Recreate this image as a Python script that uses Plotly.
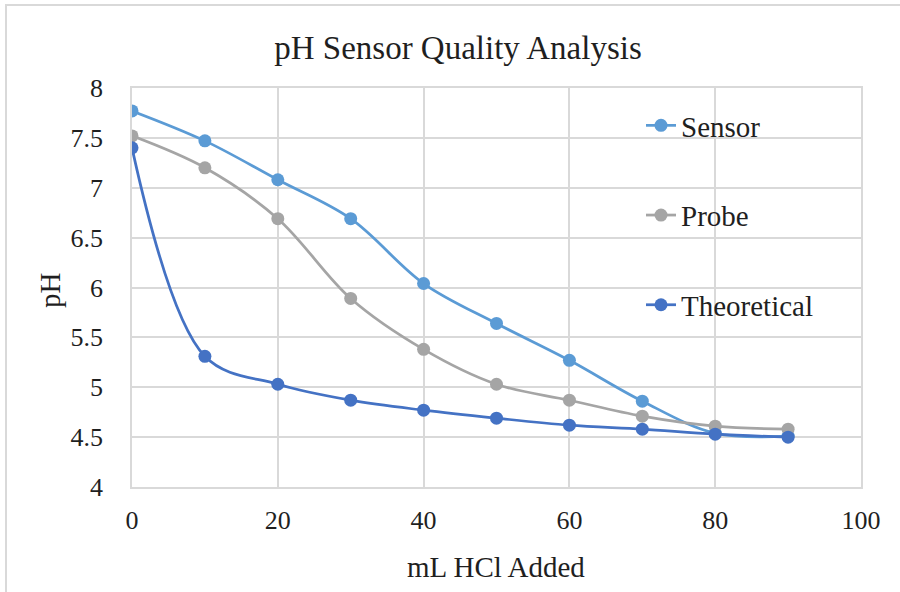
import plotly.graph_objects as go

# Titration data: pH readings vs. volume of HCl added
ml_hcl = [0, 10, 20, 30, 40, 50, 60, 70, 80, 90]
sensor = [7.77, 7.47, 7.08, 6.69, 6.04, 5.64, 5.27, 4.86, 4.54, 4.51]
probe = [7.52, 7.20, 6.69, 5.89, 5.38, 5.03, 4.87, 4.71, 4.61, 4.58]
theoretical = [7.40, 5.31, 5.03, 4.87, 4.77, 4.69, 4.62, 4.58, 4.53, 4.50]

series_names = ["Sensor", "Probe", "Theoretical"]
series_colors = ["#5B9BD5", "#A5A5A5", "#4472C4"]
x_ticks = [0, 20, 40, 60, 80, 100]
y_ticks = [4, 4.5, 5, 5.5, 6, 6.5, 7, 7.5, 8]

FONT = "Liberation Serif"
TEXT = "#1f1f1f"
GRID = "#D9D9D9"

fig = go.Figure()
for name, vals, col in zip(series_names, [sensor, probe, theoretical], series_colors):
    fig.add_trace(go.Scatter(
        x=ml_hcl, y=vals, name=name, legendgroup=name,
        mode="lines+markers",
        line=dict(color=col, width=2.75, shape="spline", smoothing=1.0),
        marker=dict(color=col, size=13),
    ))

# plot-area geometry in pixels (used for the chart frame and label placement)
W, H = 900, 592
L, R, T, B = 132, 39, 88, 105
pw, ph = W - L - R, H - T - B

def px_x(px):
    return (px - L) / pw

def px_y(py):
    return (H - B - py) / ph

fig.update_layout(
    width=W, height=H,
    margin=dict(l=L, r=R, t=T, b=B),
    paper_bgcolor="white", plot_bgcolor="white",
    font=dict(family=FONT, color=TEXT),
    title=dict(text="pH Sensor Quality Analysis", font=dict(size=33, family=FONT, color=TEXT),
               xref="container", x=458 / W, xanchor="center",
               yref="container", y=1 - 47 / H, yanchor="middle"),
    showlegend=True,
    legend=dict(x=px_x(641), xanchor="left", y=px_y(100), yanchor="top",
                bgcolor="rgba(0,0,0,0)", font=dict(size=29, family=FONT, color=TEXT),
                traceorder="grouped", tracegroupgap=49, itemclick=False),
    xaxis=dict(range=[0, 100], tickvals=x_ticks, ticktext=[str(v) for v in x_ticks],
               showgrid=True, gridcolor=GRID, gridwidth=1.5, zeroline=False,
               showline=True, linecolor=GRID, linewidth=1.5, mirror=True,
               ticks="", ticklabelstandoff=9, tickfont=dict(size=26, family=FONT, color=TEXT),
               fixedrange=True),
    yaxis=dict(range=[4, 8], tickvals=y_ticks, ticktext=[f"{v:g}" for v in y_ticks],
               showgrid=True, gridcolor=GRID, gridwidth=1.5, zeroline=False,
               showline=True, linecolor=GRID, linewidth=1.5, mirror=True,
               ticks="", ticklabelstandoff=22, tickfont=dict(size=26, family=FONT, color=TEXT),
               fixedrange=True),
    annotations=[
        dict(text="mL HCl Added", xref="paper", yref="paper",
             x=px_x(496), y=px_y(567), xanchor="center", yanchor="middle",
             showarrow=False, font=dict(size=29, family=FONT, color=TEXT)),
        dict(text="pH", xref="paper", yref="paper", textangle=-90,
             x=px_x(50), y=px_y(290), xanchor="center", yanchor="middle",
             showarrow=False, font=dict(size=29, family=FONT, color=TEXT)),
    ],
    shapes=[
        # chart frame (left and top edges visible)
        dict(type="rect", xref="paper", yref="paper",
             x0=px_x(6), x1=px_x(915), y0=px_y(605), y1=px_y(5),
             line=dict(color="#D9D9D9", width=2), fillcolor="rgba(0,0,0,0)", layer="below"),
    ],
)

fig.write_html("out.html")
